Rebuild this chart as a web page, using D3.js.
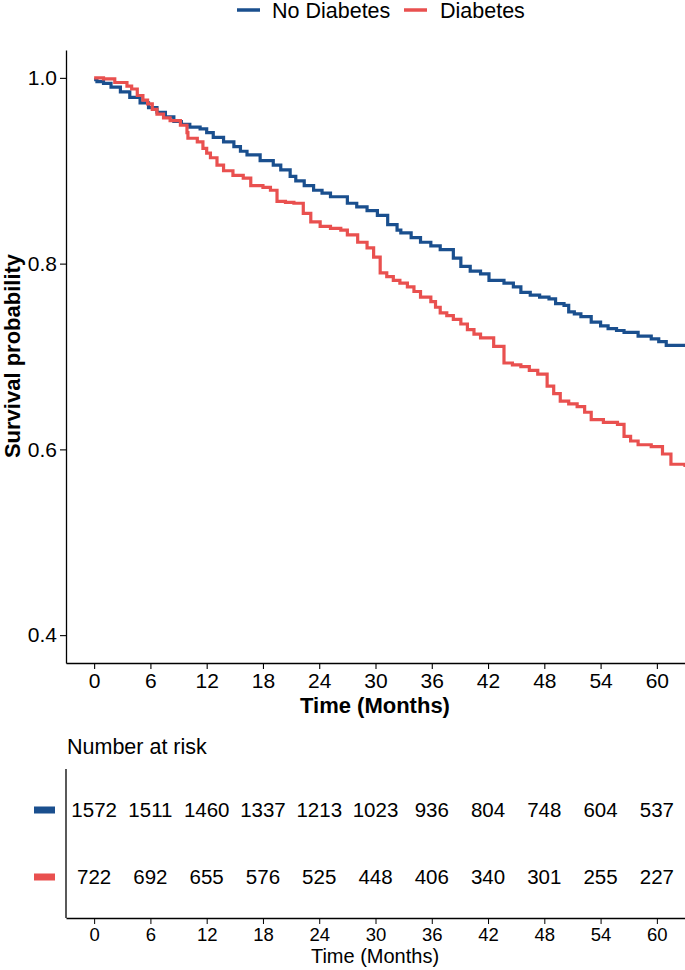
<!DOCTYPE html>
<html><head><meta charset="utf-8">
<script src="https://cdn.jsdelivr.net/npm/d3@7"></script>
<style>body{margin:0;background:#fff}svg{display:block;font-family:"Liberation Sans",Arial,sans-serif}</style>
</head><body>
<svg id="c" width="685" height="970"></svg>
<script>
const groups = ["No Diabetes", "Diabetes"];
const colors = ["#1a4f8e", "#e9504f"];
const noDiabTime = [0,0.3,1,1.8,2.8,3.8,4.9,5.8,6.7,7.6,8.5,9.3,10.2,11.3,12,12.7,13.8,14.9,15.6,16.3,17.7,19.1,19.9,20.9,21.5,22.4,23.4,24.3,25.2,27,28,29.1,30.2,31.3,32.3,32.7,33.8,34.8,35.9,36.9,38.3,39.1,40.1,41.2,42.1,43.7,44.7,45.5,46.5,47.5,48.5,49.2,50.1,50.6,51.2,51.9,53,54,54.8,55.7,56.5,58,59.4,60.2,61,63];
const noDiabSurv = [0.998,0.996,0.994,0.99,0.985,0.979,0.973,0.968,0.963,0.958,0.953,0.95,0.947,0.945,0.941,0.936,0.931,0.926,0.921,0.917,0.911,0.906,0.901,0.894,0.889,0.884,0.879,0.876,0.872,0.865,0.861,0.857,0.852,0.842,0.836,0.833,0.828,0.823,0.819,0.815,0.806,0.797,0.792,0.789,0.782,0.779,0.775,0.769,0.766,0.764,0.762,0.757,0.755,0.748,0.746,0.743,0.737,0.733,0.730,0.728,0.726,0.722,0.719,0.716,0.712,0.711];
const diabTime = [0,1,2.2,3.5,4,4.6,5.2,5.7,6.2,6.7,7.4,8.1,9.2,9.9,10,11,11.6,12,12.4,13.1,13.8,14.8,15.9,16.7,18,18.8,19.5,20.4,21.3,22.3,23.1,24.1,25.2,26.3,27,28.1,29.1,29.8,30.5,31.2,31.9,32.6,33.4,34.1,34.8,35.9,36.4,36.9,37.6,38.3,39.1,39.8,40.5,41.2,42.6,43.7,44.6,45.5,46.4,47.3,48.3,49,49.7,50.6,51.5,52.3,53,54.3,55.8,56.5,57.2,58,59.4,60.6,61.5,63];
const diabSurv = [1.0,0.999,0.995,0.991,0.988,0.981,0.976,0.972,0.966,0.961,0.957,0.954,0.949,0.941,0.935,0.931,0.924,0.919,0.914,0.906,0.900,0.895,0.892,0.884,0.882,0.879,0.867,0.866,0.865,0.854,0.845,0.840,0.838,0.836,0.831,0.823,0.817,0.807,0.790,0.786,0.782,0.779,0.775,0.770,0.764,0.759,0.753,0.747,0.744,0.740,0.735,0.729,0.724,0.720,0.711,0.693,0.691,0.689,0.685,0.681,0.668,0.660,0.652,0.649,0.646,0.640,0.632,0.629,0.627,0.614,0.609,0.605,0.603,0.595,0.584,0.581];
const xTicks = [0,6,12,18,24,30,36,42,48,54,60];
const yTicks = [0.4,0.6,0.8,1.0];
const riskNoDiab = [1572,1511,1460,1337,1213,1023,936,804,748,604,537];
const riskDiab = [722,692,655,576,525,448,406,340,301,255,227];

const svg = d3.select("#c");
const x = d3.scaleLinear().domain([-3,63]).range([66,685]);
const y = d3.scaleLinear().domain([0.37,1.03]).range([663,50]);

// legend
const leg = [{n:groups[0],c:colors[0],lx:237,tx:272},{n:groups[1],c:colors[1],lx:404,tx:440}];
leg.forEach(d=>{
  svg.append("line").attr("x1",d.lx).attr("x2",d.lx+23).attr("y1",10).attr("y2",10).attr("stroke",d.c).attr("stroke-width",3.5);
  svg.append("text").attr("x",d.tx).attr("y",18).attr("font-size",21.5).attr("fill","#000").text(d.n);
});

// axes main
const gx = svg.append("g").attr("transform","translate(0,663)")
  .call(d3.axisBottom(x).tickValues(xTicks).tickSizeInner(6).tickSizeOuter(0).tickPadding(4).tickFormat(d3.format("d")));
const gy = svg.append("g").attr("transform","translate(66,0)")
  .call(d3.axisLeft(y).tickValues(yTicks).tickSizeInner(6).tickSizeOuter(0).tickPadding(3).tickFormat(d3.format(".1f")));
[gx,gy].forEach(g=>{
  g.select(".domain").attr("stroke","#000").attr("stroke-width",1.3);
  g.selectAll(".tick line").attr("stroke","#000").attr("stroke-width",1.1);
  g.selectAll(".tick text").attr("font-size",21).attr("fill","#000").attr("font-family","Liberation Sans, Arial, sans-serif");
});
svg.append("text").attr("x",375).attr("y",713).attr("text-anchor","middle").attr("font-size",22).attr("font-weight","bold").text("Time (Months)");
svg.append("text").attr("transform","translate(20,356) rotate(-90)").attr("text-anchor","middle").attr("font-size",22).attr("font-weight","bold").text("Survival probability");

// curves
const line = d3.line().x(d=>x(d[0])).y(d=>y(d[1])).curve(d3.curveStepAfter);
const series = [d3.zip(noDiabTime,noDiabSurv), d3.zip(diabTime,diabSurv)];
series.forEach((s,i)=>{
  svg.append("path").datum(s).attr("d",line).attr("fill","none").attr("stroke",colors[i]).attr("stroke-width",3.2);
});

// risk table
svg.append("text").attr("x",67).attr("y",754).attr("font-size",21.5).text("Number at risk");
const ry = d3.scalePoint().domain(groups).range([810,877]);
const gx2 = svg.append("g").attr("transform","translate(0,918)")
  .call(d3.axisBottom(x).tickValues(xTicks).tickSizeInner(6).tickSizeOuter(0).tickPadding(4).tickFormat(d3.format("d")));
gx2.select(".domain").attr("stroke","#000").attr("stroke-width",1.3);
gx2.selectAll(".tick line").attr("stroke","#000");
gx2.selectAll(".tick text").attr("font-size",18.5).attr("fill","#000");
svg.append("line").attr("x1",66).attr("x2",66).attr("y1",769).attr("y2",918).attr("stroke","#000").attr("stroke-width",1.3);
svg.append("text").attr("x",375).attr("y",963).attr("text-anchor","middle").attr("font-size",20).text("Time (Months)");
[riskNoDiab, riskDiab].forEach((arr,i)=>{
  svg.append("rect").attr("x",34).attr("y",ry(groups[i])-3.5).attr("width",21).attr("height",7).attr("fill",colors[i]);
  svg.selectAll(null).data(arr).enter().append("text")
    .attr("x",(d,j)=>x(xTicks[j])).attr("y",ry(groups[i])+7).attr("text-anchor","middle").attr("font-size",20.5).text(d=>d);
});
</script>
</body></html>
